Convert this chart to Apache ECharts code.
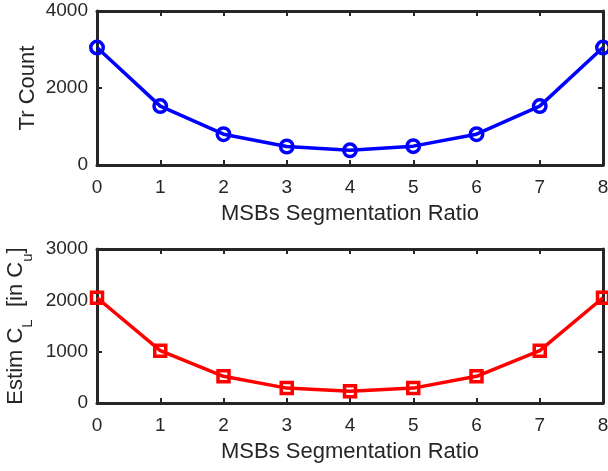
<!DOCTYPE html>
<html>
<head>
<meta charset="utf-8">
<script src="https://cdn.jsdelivr.net/npm/echarts@6/dist/echarts.min.js"></script>
<style>html,body{margin:0;padding:0;background:#fff}#c{width:608px;height:471px}</style>
</head>
<body>
<div id="c"></div>
<script>
const xValues = [0, 1, 2, 3, 4, 5, 6, 7, 8];
const trCount = [3050, 1530, 800, 480, 380, 490, 800, 1530, 3050];
const estimCL = [2050, 1020, 520, 290, 230, 290, 520, 1020, 2050];
const xTitle = 'MSBs Segmentation Ratio';
const topYTitle = 'Tr Count';

const FONT = 'Liberation Sans, Arial, Helvetica, sans-serif';
const INK = '#262626';
const chart = echarts.init(document.getElementById('c'), null, {renderer: 'canvas'});

const axisLine = {show: true, onZero: false, lineStyle: {color: INK, width: 3}};
const axisTick = {show: true, inside: true, length: 5, lineStyle: {color: INK, width: 2}};
const labelStyle = {color: INK, fontFamily: FONT, fontSize: 19, formatter: v => String(v)};

function xMain(gi) {
  return {type: 'value', gridIndex: gi, min: 0, max: 8, interval: 1, position: 'bottom',
    axisLine, axisTick, splitLine: {show: false},
    axisLabel: Object.assign({margin: 13}, labelStyle),
    name: xTitle, nameLocation: 'middle', nameGap: 38, nameMoveOverlap: false,
    nameTextStyle: {color: INK, fontFamily: FONT, fontSize: 22}};
}
function xTop(gi) {
  return {type: 'value', gridIndex: gi, min: 0, max: 8, interval: 1, position: 'top',
    axisLine, axisTick, splitLine: {show: false}, axisLabel: {show: false}};
}
function yMain(gi, max, interval, name, nameExtra) {
  return Object.assign({type: 'value', gridIndex: gi, min: 0, max, interval, position: 'left',
    axisLine, axisTick, splitLine: {show: false},
    axisLabel: Object.assign({margin: 9}, labelStyle),
    name, nameLocation: 'middle', nameGap: 58, nameMoveOverlap: false,
    nameTextStyle: {color: INK, fontFamily: FONT, fontSize: 22}}, nameExtra || {});
}
function yRight(gi, max, interval) {
  return {type: 'value', gridIndex: gi, min: 0, max, interval, position: 'right',
    axisLine, axisTick, splitLine: {show: false}, axisLabel: {show: false}};
}

const option = {
  animation: false,
  backgroundColor: '#fff',
  grid: [
    {left: 97, top: 11, width: 506, height: 154, containLabel: false, outerBoundsMode: 'none'},
    {left: 97, top: 249, width: 506, height: 154, containLabel: false, outerBoundsMode: 'none'}
  ],
  xAxis: [xMain(0), xTop(0), xMain(1), xTop(1)],
  yAxis: [
    yMain(0, 4000, 2000, topYTitle),
    yRight(0, 4000, 2000),
    yMain(1, 3000, 1000, '{a|Estim C}{s|L}{a|  [in C}{s|u}{a|]}', {
      nameGap: 62,
      nameTextStyle: {color: INK, fontFamily: FONT, fontSize: 22,
        rich: {
          a: {color: INK, fontFamily: FONT, fontSize: 22, lineHeight: 22, verticalAlign: 'top'},
          s: {color: INK, fontFamily: FONT, fontSize: 15, lineHeight: 30, verticalAlign: 'bottom'}
        }}
    }),
    yRight(1, 3000, 1000)
  ],
  series: [
    {type: 'line', xAxisIndex: 0, yAxisIndex: 0, clip: false,
      data: xValues.map((x, i) => [x, trCount[i]]),
      lineStyle: {color: '#0000ff', width: 3.5},
      symbol: 'circle', symbolSize: 12.5,
      itemStyle: {color: 'rgba(0,0,0,0)', borderColor: '#0000ff', borderWidth: 3.5}},
    {type: 'line', xAxisIndex: 2, yAxisIndex: 2, clip: false,
      data: xValues.map((x, i) => [x, estimCL[i]]),
      lineStyle: {color: '#ff0000', width: 3.5},
      symbol: 'rect', symbolSize: 11,
      itemStyle: {color: 'rgba(0,0,0,0)', borderColor: '#ff0000', borderWidth: 3.5}}
  ]
};
chart.setOption(option);
</script>
</body>
</html>
